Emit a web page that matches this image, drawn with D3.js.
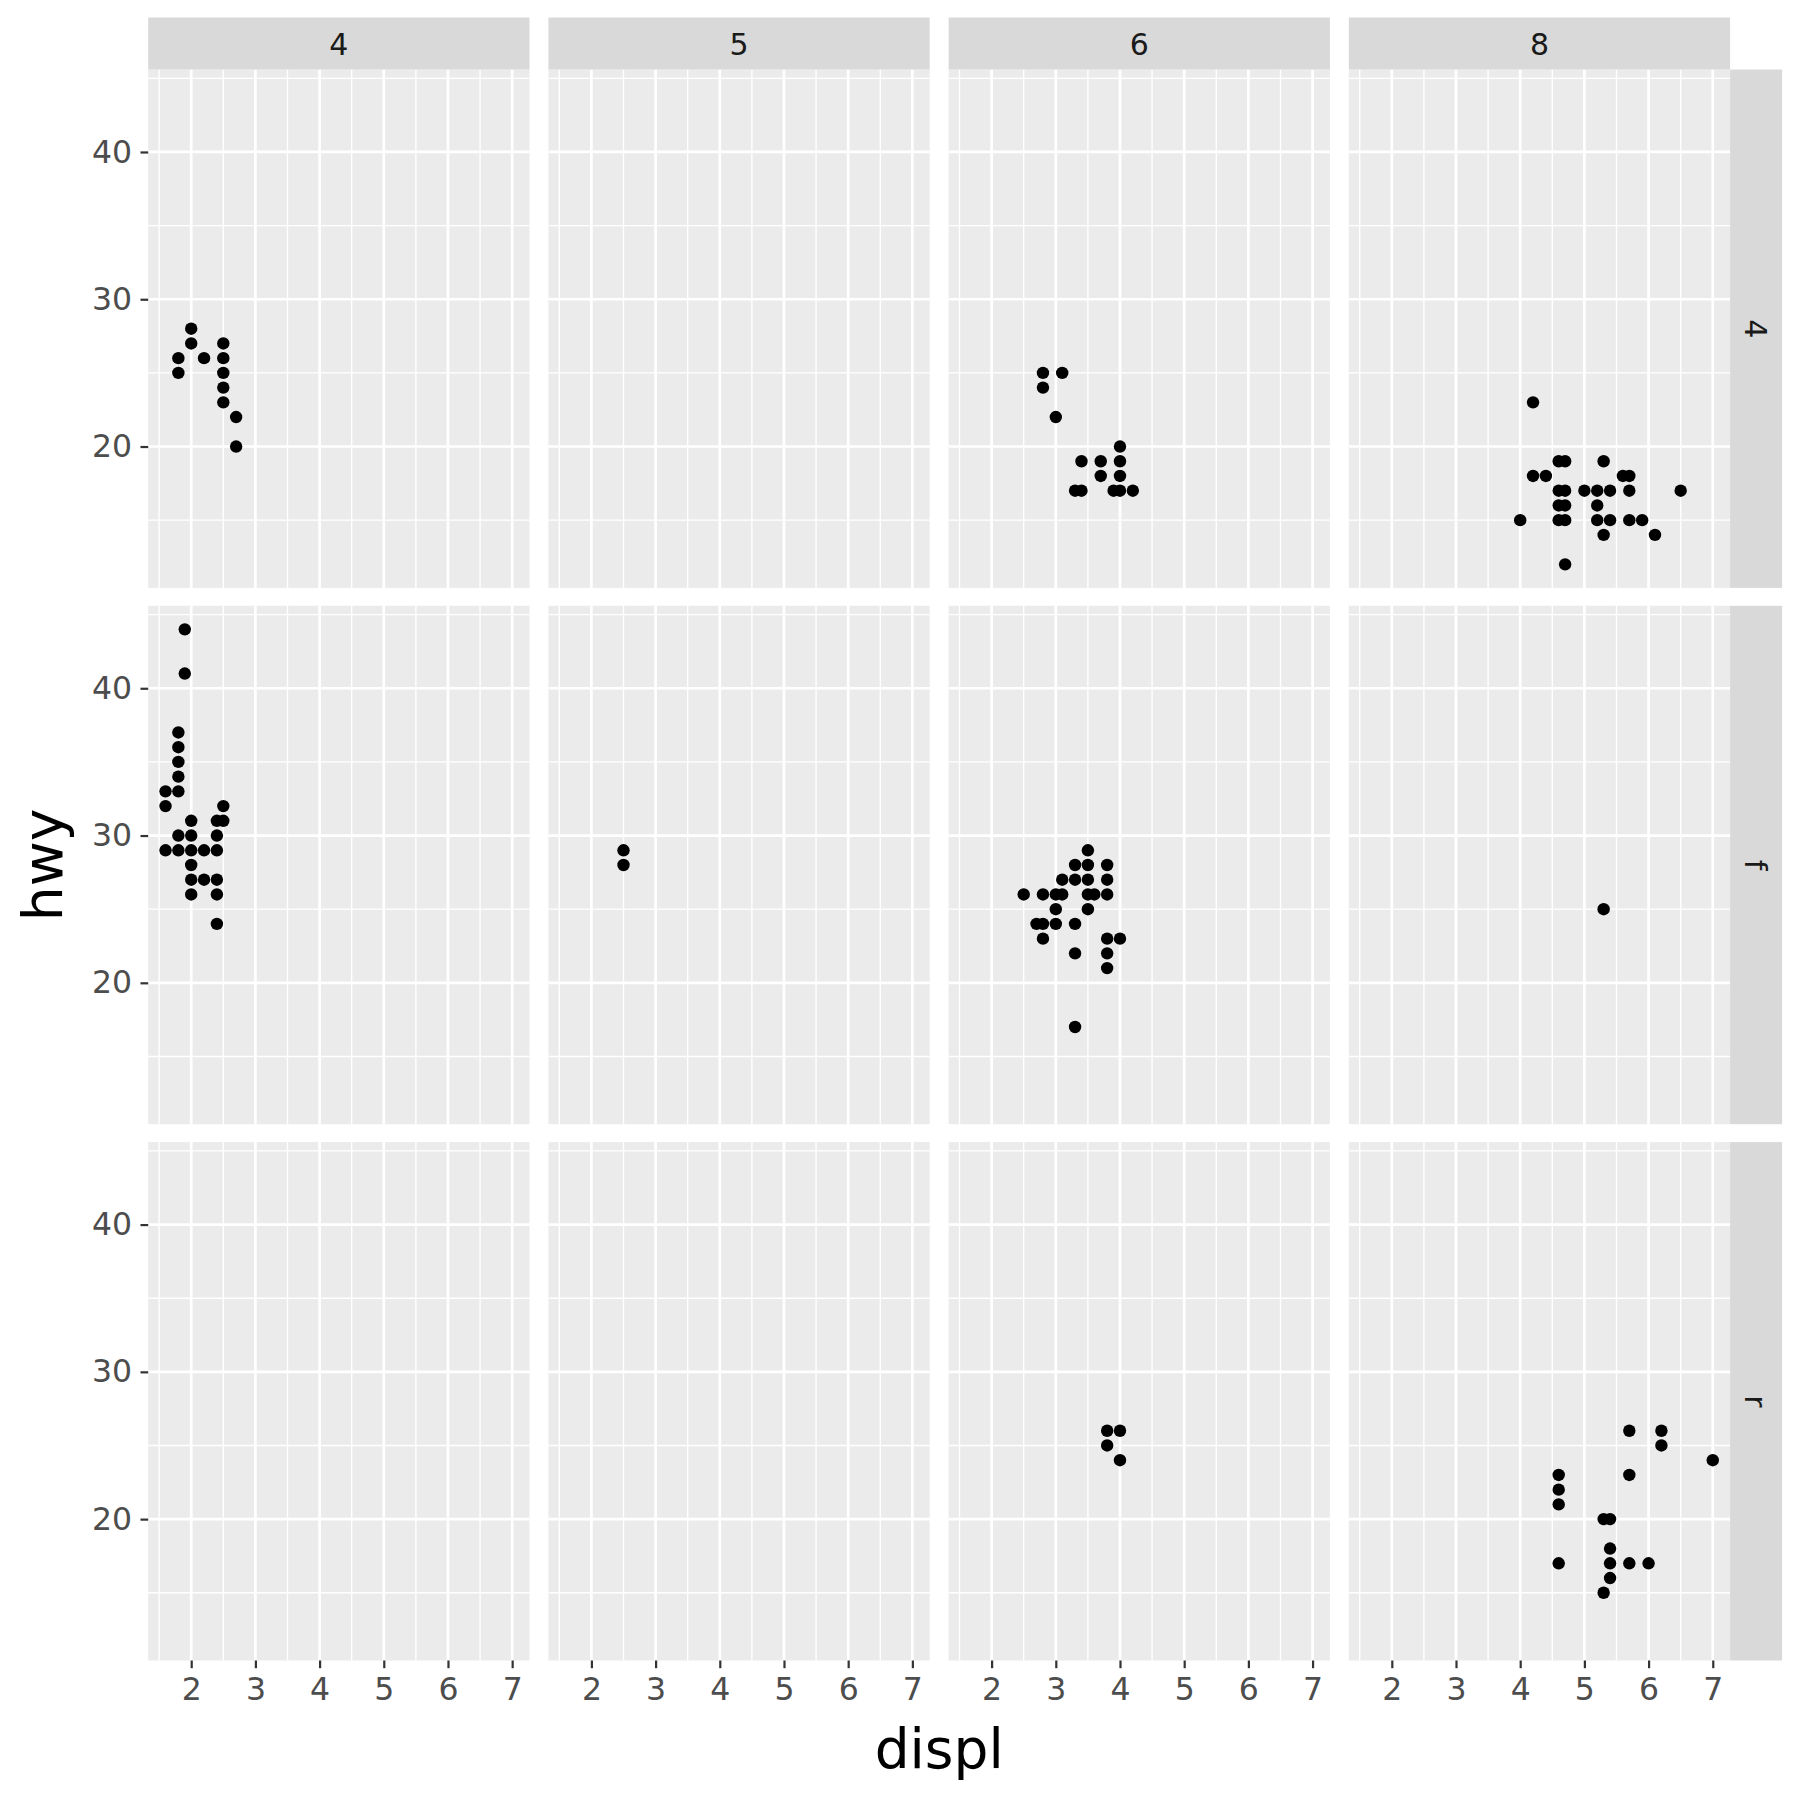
<!DOCTYPE html>
<html>
<head>
<meta charset="utf-8">
<script src="https://cdn.jsdelivr.net/npm/d3@7"></script>
<style>
  body { margin: 0; background: #fff; }
  svg { display: block; font-family: "DejaVu Sans", sans-serif; }
</style>
</head>
<body>
<svg id="chart"></svg>
<script>
// facet levels
const cylLevels = ["4", "5", "6", "8"];
const drvLevels = ["4", "f", "r"];

// axis ticks
const xTicks = [2, 3, 4, 5, 6, 7];
const xMinor = [1.5, 2.5, 3.5, 4.5, 5.5, 6.5];
const yTicks = [20, 30, 40];
const yMinor = [15, 25, 35, 45];

// points per panel: [displ, hwy], drv row then cyl column
const pts_4_4 = [[1.8,26],[1.8,25],[2.0,28],[2.0,27],[2.2,26],[2.5,27],[2.5,26],[2.5,25],[2.5,24],[2.5,23],[2.7,22],[2.7,20]];
const pts_4_5 = [];
const pts_4_6 = [[2.8,25],[3.1,25],[2.8,24],[3.0,22],[4.0,20],[3.4,19],[3.7,19],[4.0,19],[3.7,18],[4.0,18],[3.3,17],[3.4,17],[3.9,17],[4.0,17],[4.2,17]];
const pts_4_8 = [[4.2,23],[4.6,19],[4.7,19],[5.3,19],[4.2,18],[4.4,18],[5.6,18],[5.7,18],[4.6,17],[4.7,17],[5.0,17],[5.2,17],[5.4,17],[5.7,17],[6.5,17],[4.6,16],[4.7,16],[5.2,16],[4.0,15],[4.6,15],[4.7,15],[5.2,15],[5.4,15],[5.7,15],[5.9,15],[5.3,14],[6.1,14],[4.7,12]];
const pts_f_4 = [[1.9,44],[1.9,41],[1.8,37],[1.8,36],[1.8,35],[1.8,34],[1.8,33],[1.6,33],[1.6,32],[2.5,32],[2.0,31],[2.4,31],[2.5,31],[1.8,30],[2.0,30],[2.4,30],[1.6,29],[1.8,29],[2.0,29],[2.2,29],[2.4,29],[2.0,28],[2.0,27],[2.2,27],[2.4,27],[2.0,26],[2.4,26],[2.4,24]];
const pts_f_5 = [[2.5,29],[2.5,28]];
const pts_f_6 = [[3.5,29],[3.3,28],[3.5,28],[3.8,28],[3.1,27],[3.3,27],[3.5,27],[3.8,27],[2.5,26],[2.8,26],[3.0,26],[3.1,26],[3.5,26],[3.6,26],[3.8,26],[3.0,25],[3.5,25],[2.7,24],[2.8,24],[3.0,24],[3.3,24],[2.8,23],[3.8,23],[4.0,23],[3.3,22],[3.8,22],[3.8,21],[3.3,17]];
const pts_f_8 = [[5.3,25]];
const pts_r_4 = [];
const pts_r_5 = [];
const pts_r_6 = [[3.8,26],[4.0,26],[3.8,25],[4.0,24]];
const pts_r_8 = [[5.7,26],[6.2,26],[6.2,25],[7.0,24],[4.6,23],[5.7,23],[4.6,22],[4.6,21],[5.3,20],[5.4,20],[5.4,18],[4.6,17],[5.4,17],[5.7,17],[6.0,17],[5.4,16],[5.3,15]];

const panelData = {
  "4": [pts_4_4, pts_4_5, pts_4_6, pts_4_8],
  "f": [pts_f_4, pts_f_5, pts_f_6, pts_f_8],
  "r": [pts_r_4, pts_r_5, pts_r_6, pts_r_8]
};

const W = 1800, H = 1800;
const panelLeft = 148.2, panelTop = 69.5;
const pw = 381.3, ph = 518.4;
const hgap = 18.9, vgap = 17.9;
const stripSize = 52;

const svg = d3.select("#chart").attr("width", W).attr("height", H);
svg.append("rect").attr("width", W).attr("height", H).attr("fill", "#ffffff");

// shared scales (ggplot style 5% expansion)
const xScale = d3.scaleLinear().domain([1.33, 7.27]).range([0, pw]);
const yScale = d3.scaleLinear().domain([10.4, 45.6]).range([ph, 0]);

const colX = i => panelLeft + i * (pw + hgap);
const rowY = j => panelTop + j * (ph + vgap);

drvLevels.forEach((drv, j) => {
  cylLevels.forEach((cyl, i) => {
    const g = svg.append("g").attr("transform", "translate(" + colX(i) + "," + rowY(j) + ")");

    g.append("rect").attr("width", pw).attr("height", ph).attr("fill", "#EBEBEB");

    // minor grid
    g.selectAll(".vminor").data(xMinor).join("line")
      .attr("x1", d => xScale(d)).attr("x2", d => xScale(d))
      .attr("y1", 0).attr("y2", ph)
      .attr("stroke", "#ffffff").attr("stroke-width", 1.35);
    g.selectAll(".hminor").data(yMinor).join("line")
      .attr("y1", d => yScale(d)).attr("y2", d => yScale(d))
      .attr("x1", 0).attr("x2", pw)
      .attr("stroke", "#ffffff").attr("stroke-width", 1.35);

    // major grid
    g.selectAll(".vmajor").data(xTicks).join("line")
      .attr("x1", d => xScale(d)).attr("x2", d => xScale(d))
      .attr("y1", 0).attr("y2", ph)
      .attr("stroke", "#ffffff").attr("stroke-width", 2.7);
    g.selectAll(".hmajor").data(yTicks).join("line")
      .attr("y1", d => yScale(d)).attr("y2", d => yScale(d))
      .attr("x1", 0).attr("x2", pw)
      .attr("stroke", "#ffffff").attr("stroke-width", 2.7);

    g.selectAll("circle").data(panelData[drv][i]).join("circle")
      .attr("cx", d => xScale(d[0]))
      .attr("cy", d => yScale(d[1]))
      .attr("r", 6.2)
      .attr("fill", "#000000");

    // left axis on first column
    if (i === 0) {
      const ya = g.append("g")
        .call(d3.axisLeft(yScale).tickValues(yTicks).tickFormat(d3.format("d")).tickSize(7.7).tickPadding(8.5));
      ya.select(".domain").remove();
      ya.selectAll("line").attr("stroke", "#333333").attr("stroke-width", 2.2);
      ya.selectAll("text").attr("fill", "#4D4D4D").style("font-size", "31.5px")
        .style("font-family", "DejaVu Sans");
    }

    // bottom axis on last row
    if (j === drvLevels.length - 1) {
      const xa = g.append("g").attr("transform", "translate(0," + ph + ")")
        .call(d3.axisBottom(xScale).tickValues(xTicks).tickFormat(d3.format("d")).tickSize(7.7).tickPadding(9));
      xa.select(".domain").remove();
      xa.selectAll("line").attr("stroke", "#333333").attr("stroke-width", 2.2);
      xa.selectAll("text").attr("fill", "#4D4D4D").style("font-size", "31.5px")
        .style("font-family", "DejaVu Sans");
    }
  });
});

// top strips
cylLevels.forEach((cyl, i) => {
  svg.append("rect")
    .attr("x", colX(i)).attr("y", panelTop - stripSize)
    .attr("width", pw).attr("height", stripSize)
    .attr("fill", "#D9D9D9");
  svg.append("text")
    .attr("x", colX(i) + pw / 2).attr("y", panelTop - stripSize / 2 + 1)
    .attr("dy", "0.36em")
    .attr("text-anchor", "middle")
    .style("font-size", "30px")
    .attr("fill", "#1A1A1A")
    .text(cyl);
});

// right strips
const stripX = panelLeft + 4 * pw + 3 * hgap;
drvLevels.forEach((drv, j) => {
  svg.append("rect")
    .attr("x", stripX).attr("y", rowY(j))
    .attr("width", stripSize).attr("height", ph)
    .attr("fill", "#D9D9D9");
  svg.append("text")
    .attr("transform", "translate(" + (stripX + stripSize / 2) + "," + (rowY(j) + ph / 2) + ") rotate(90)")
    .attr("dy", "0.36em")
    .attr("text-anchor", "middle")
    .style("font-size", "30px")
    .attr("fill", "#1A1A1A")
    .text(drv);
});

// axis titles
const plotBottom = rowY(2) + ph;
svg.append("text")
  .attr("x", (panelLeft + stripX) / 2)
  .attr("y", 1768)
  .attr("text-anchor", "middle")
  .style("font-size", "55px")
  .attr("fill", "#000000")
  .text("displ");

svg.append("text")
  .attr("transform", "translate(62," + (panelTop + plotBottom) / 2 + ") rotate(-90)")
  .attr("text-anchor", "middle")
  .style("font-size", "55px")
  .attr("fill", "#000000")
  .text("hwy");
</script>
</body>
</html>
